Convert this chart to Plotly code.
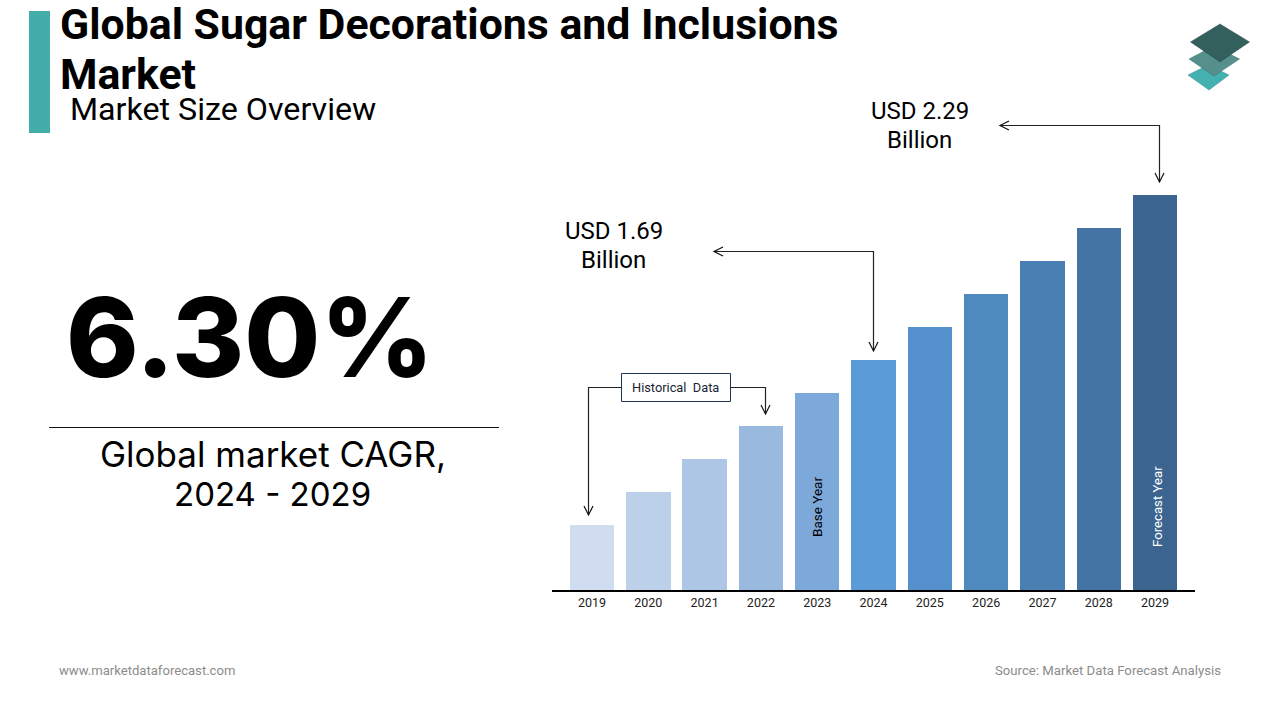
import plotly.graph_objects as go

years = ["2019", "2020", "2021", "2022", "2023", "2024", "2025", "2026", "2027", "2028", "2029"]
market_size = [1.09, 1.21, 1.33, 1.45, 1.57, 1.69, 1.81, 1.93, 2.05, 2.17, 2.29]
bar_colors = ["#D0DCEF", "#BDD0EA", "#AEC6E5", "#9AB9DF", "#7DA9DA", "#5B9BD8",
              "#5490CB", "#4F8ABF", "#4A7FB3", "#4474A3", "#3B6590"]

W, H = 1280, 720
def px(x): return x / W
def py(y): return 1 - y / H

fig = go.Figure(go.Bar(x=years, y=market_size, marker=dict(color=bar_colors, line_width=0),
                       width=0.79, hoverinfo="x+y"))

shapes = []
def path(points, close=False, fill=None, color="#111111", width=1.2):
    d = "M" + " L".join(f"{px(x):.5f},{py(y):.5f}" for x, y in points) + (" Z" if close else "")
    shapes.append(dict(type="path", xref="paper", yref="paper", path=d,
                       line=dict(color=color, width=width), fillcolor=fill, layer="above"))

def arrow_down(x, y):
    path([(x - 4.5, y - 9), (x, y), (x + 4.5, y - 9)])
def arrow_left(x, y):
    path([(x + 9, y - 4.5), (x, y), (x + 9, y + 4.5)])

# title accent
path([(29, 11), (50, 11), (50, 133), (29, 133)], True, "#45ADA9", "#45ADA9", 0)
# divider
path([(49, 427.5), (499, 427.5)], color="#111111", width=1)
# connectors
path([(1000, 125.5), (1159.5, 125.5), (1159.5, 182)], color="#222222")
arrow_left(1000, 125.5); arrow_down(1159.5, 182)
path([(714, 251.5), (873.5, 251.5), (873.5, 351)], color="#222222")
arrow_left(714, 251.5); arrow_down(873.5, 351)
path([(621, 387.5), (588.5, 387.5), (588.5, 515)], color="#222222")
arrow_down(588.5, 515)
path([(731, 387.5), (765.5, 387.5), (765.5, 414)], color="#222222")
arrow_down(765.5, 414)
path([(621.5, 373.5), (730.5, 373.5), (730.5, 401.5), (621.5, 401.5)], True, "#FFFFFF", "#1F3354", 1)
# logo
path([(1188, 75), (1208, 65), (1229, 75), (1209, 90)], True, "#45B0B0", "#3A8F8F", 0.5)
path([(1189, 59), (1214, 46), (1239.5, 59), (1214, 76)], True, "#55908C", "#3F6F6C", 0.5)
path([(1190.5, 42), (1220, 24), (1249.5, 42), (1220, 62)], True, "#335F5D", "#2A4F4D", 0.5)

notes = []
def text(x, y, s, size, family="Roboto", color="#000000", weight=None, anchor="left", angle=0):
    notes.append(dict(xref="paper", yref="paper", x=px(x), y=py(y), text=s, showarrow=False,
                      xanchor=anchor, yanchor="middle", textangle=angle, align="center",
                      font=dict(family=family, size=size, color=color, weight=weight)))

text(57.5, 24, "Global Sugar Decorations and Inclusions", 42.8, weight=700)
text(57.5, 74, "Market", 42.8, weight=700)
text(68, 108.5, "Market Size Overview", 32.2)
text(250, 337, "6.30%", 110, family="Inter", weight=800, anchor="center")
text(272.5, 454, "Global market CAGR,", 35, family="Inter", anchor="center")
text(272.5, 493.5, "2024 - 2029", 33, family="Inter", anchor="center")
text(919.5, 111, "USD 2.29", 24, anchor="center")
text(919, 140, "Billion", 24, anchor="center")
text(613.5, 231, "USD 1.69", 24, anchor="center")
text(613, 260, "Billion", 24, anchor="center")
text(675, 387, "Historical  Data", 12.8, color="#1B2433", anchor="center")
text(817, 507, "Base Year", 13.5, anchor="center", angle=-90)
text(1157, 507, "Forecast Year", 13.2, color="#FFFFFF", anchor="center", angle=-90)
text(57, 670, "www.marketdataforecast.com", 13.1, color="#8C8C8C")
text(1223, 670, "Source: Market Data Forecast Analysis", 13.2, color="#8C8C8C", anchor="right")

fig.update_layout(
    width=W, height=H, autosize=False, margin=dict(l=0, r=0, t=0, b=0),
    paper_bgcolor="#FFFFFF", plot_bgcolor="#FFFFFF", showlegend=False, bargap=0,
    shapes=shapes, annotations=notes,
    xaxis=dict(domain=[px(552), px(1194.5)], range=[-0.71, 10.70], type="category",
               showgrid=False, ticks="", showline=True, linecolor="#000000", linewidth=2,
               tickfont=dict(family="Roboto", size=12.5, color="#222222"), ticklen=0,
               fixedrange=True),
    yaxis=dict(domain=[py(590), py(100)], range=[0.854, 2.636], visible=False, fixedrange=True),
)
fig.write_html("out.html", config=dict(displayModeBar=False),
               post_script="document.body.style.margin='0';document.documentElement.style.overflow='hidden';window.dispatchEvent(new Event('resize'));")
